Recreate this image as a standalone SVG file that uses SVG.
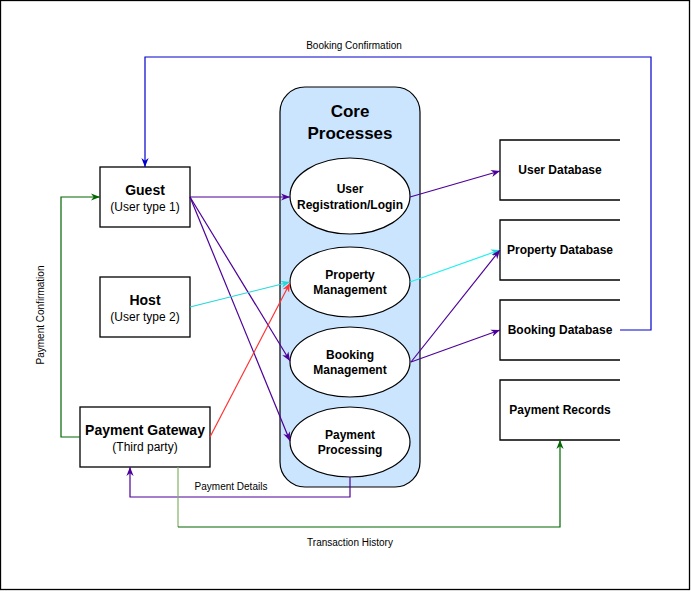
<svg xmlns="http://www.w3.org/2000/svg" width="691" height="591" viewBox="0 0 691 591">
<style>
.box{fill:#fff;stroke:#000;stroke-width:1.3}
.ell{fill:#fff;stroke:#000;stroke-width:1.2}
.db{fill:none;stroke:#000;stroke-width:1.3}
.t{font-family:"Liberation Sans",Arial,sans-serif;text-anchor:middle;fill:#000}
.b{font-weight:bold}
.lbl{font-family:"Liberation Sans",Arial,sans-serif;font-size:10px;text-anchor:middle;fill:#000}
.c{fill:none;stroke-width:1.2}
</style>
<defs>
<marker id="mp" viewBox="0 0 10 10" refX="10" refY="5" markerWidth="9" markerHeight="9" markerUnits="userSpaceOnUse" orient="auto"><path d="M0,1 L10,5 L0,9 L3,5 z" fill="#4C0099"/></marker>
<marker id="mc" viewBox="0 0 10 10" refX="10" refY="5" markerWidth="9" markerHeight="9" markerUnits="userSpaceOnUse" orient="auto"><path d="M0,1 L10,5 L0,9 L3,5 z" fill="#22D8D8"/></marker>
<marker id="mr" viewBox="0 0 10 10" refX="10" refY="5" markerWidth="9" markerHeight="9" markerUnits="userSpaceOnUse" orient="auto"><path d="M0,1 L10,5 L0,9 L3,5 z" fill="#FF3333"/></marker>
<marker id="mb" viewBox="0 0 10 10" refX="10" refY="5" markerWidth="9" markerHeight="9" markerUnits="userSpaceOnUse" orient="auto"><path d="M0,1 L10,5 L0,9 L3,5 z" fill="#0000CC"/></marker>
<marker id="mg" viewBox="0 0 10 10" refX="10" refY="5" markerWidth="9" markerHeight="9" markerUnits="userSpaceOnUse" orient="auto"><path d="M0,1 L10,5 L0,9 L3,5 z" fill="#006600"/></marker>
</defs>
<rect x="0.5" y="0.5" width="689" height="589" fill="#fff" stroke="#000" stroke-width="1.3"/>

<g id="core">
<rect x="280" y="87" width="140" height="400" rx="25" fill="#cce5ff" stroke="#000" stroke-width="1.2"/>
<text class="t b" x="350" y="117" font-size="17">Core</text>
<text class="t b" x="350" y="139" font-size="17">Processes</text>
</g>

<g id="guest"><rect class="box" x="100" y="167" width="90" height="60"/>
<text class="t b" x="145" y="195" font-size="14">Guest</text>
<text class="t" x="145" y="211" font-size="12">(User type 1)</text></g>
<g id="host"><rect class="box" x="100" y="277" width="90" height="60"/>
<text class="t b" x="145" y="305" font-size="14">Host</text>
<text class="t" x="145" y="321" font-size="12">(User type 2)</text></g>
<g id="gateway"><rect class="box" x="80" y="407" width="130" height="60"/>
<text class="t b" x="145" y="435" font-size="14">Payment Gateway</text>
<text class="t" x="145" y="451" font-size="12">(Third party)</text></g>

<g id="userreg"><ellipse class="ell" cx="350" cy="196" rx="60" ry="38"/>
<text class="t b" x="350" y="193" font-size="12">User</text>
<text class="t b" x="350" y="209" font-size="12">Registration/Login</text></g>
<g id="propmgmt"><ellipse class="ell" cx="350" cy="282" rx="60" ry="35"/>
<text class="t b" x="350" y="279" font-size="12">Property</text>
<text class="t b" x="350" y="294" font-size="12">Management</text></g>
<g id="bookmgmt"><ellipse class="ell" cx="350" cy="362" rx="60" ry="35"/>
<text class="t b" x="350" y="359" font-size="12">Booking</text>
<text class="t b" x="350" y="374" font-size="12">Management</text></g>
<g id="payproc"><ellipse class="ell" cx="350" cy="442" rx="60" ry="35"/>
<text class="t b" x="350" y="439" font-size="12">Payment</text>
<text class="t b" x="350" y="454" font-size="12">Processing</text></g>

<g id="userdb"><path class="db" d="M620,140 H500 V200 H620"/><text class="t b" x="560" y="174" font-size="12">User Database</text></g>
<g id="propdb"><path class="db" d="M620,220 H500 V280 H620"/><text class="t b" x="560" y="254" font-size="12">Property Database</text></g>
<g id="bookdb"><path class="db" d="M620,300 H500 V360 H620"/><text class="t b" x="560" y="334" font-size="12">Booking Database</text></g>
<g id="payrec"><path class="db" d="M620,380 H500 V440 H620"/><text class="t b" x="560" y="414" font-size="12">Payment Records</text></g>

<g id="connectors">
<line class="c" x1="190" y1="197" x2="290" y2="197" stroke="#4C0099" marker-end="url(#mp)"/>
<line class="c" x1="190" y1="197" x2="290" y2="361" stroke="#4C0099" marker-end="url(#mp)"/>
<line class="c" x1="190" y1="197" x2="290" y2="441" stroke="#4C0099" marker-end="url(#mp)"/>
<line class="c" x1="190" y1="307" x2="290" y2="282" stroke="#22D8D8" marker-end="url(#mc)"/>
<line class="c" x1="210" y1="437" x2="290" y2="283" stroke="#FF3333" marker-end="url(#mr)"/>
<line class="c" x1="410" y1="197" x2="500" y2="171" stroke="#4C0099" marker-end="url(#mp)"/>
<line class="c" x1="410" y1="282" x2="500" y2="250" stroke="#22F0F0" marker-end="url(#mc)"/>
<line class="c" x1="411" y1="362" x2="500" y2="250" stroke="#4C0099" marker-end="url(#mp)"/>
<line class="c" x1="411" y1="362" x2="500" y2="330" stroke="#4C0099" marker-end="url(#mp)"/>
<path class="c" d="M620,330 H651 V57 H145 V167" stroke="#0000CC" marker-end="url(#mb)"/>
<text class="lbl" x="354" y="49">Booking Confirmation</text>
<path class="c" d="M80,437 H61 V197 H100" stroke="#006600" marker-end="url(#mg)"/>
<text class="lbl" x="44" y="315" transform="rotate(-90 44 315)">Payment Confirmation</text>
<path class="c" d="M350,477 V497 H130 V467" stroke="#4C0099" marker-end="url(#mp)"/>
<text class="lbl" x="231" y="490">Payment Details</text>
<path class="c" d="M178,467 V527" stroke="#82b366"/>
<path class="c" d="M178,527 H560 V440" stroke="#006600" marker-end="url(#mg)"/>
<text class="lbl" x="350" y="546">Transaction History</text>
</g>
</svg>
